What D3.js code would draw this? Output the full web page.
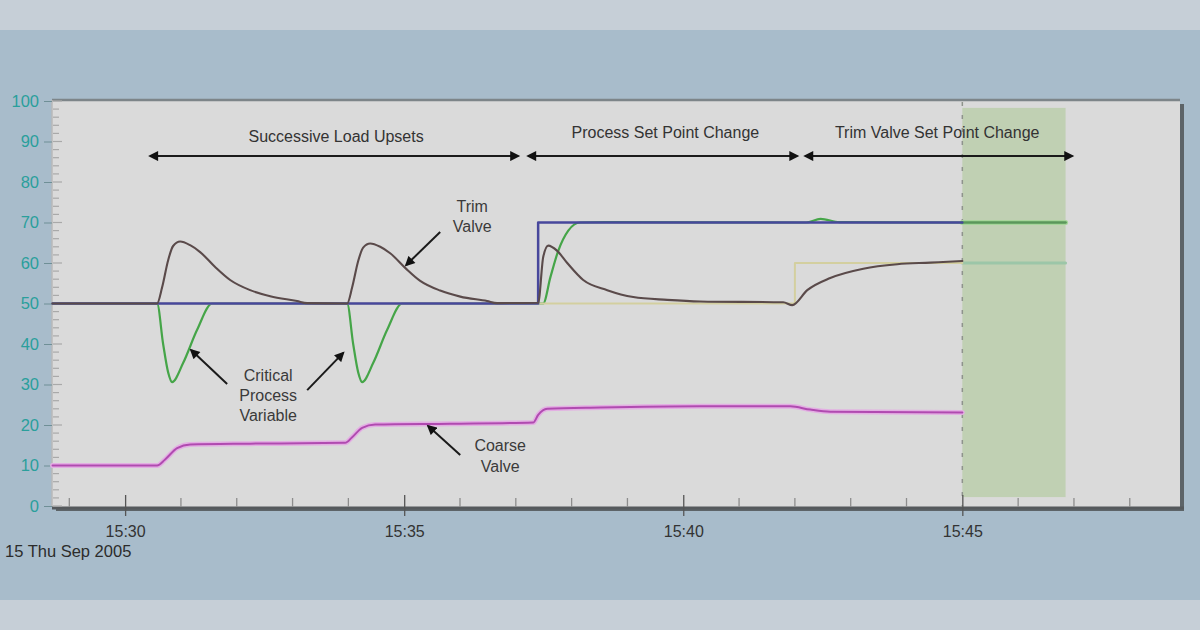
<!DOCTYPE html>
<html><head><meta charset="utf-8">
<script src="https://cdn.jsdelivr.net/npm/d3@7"></script>
<style>body{margin:0;background:#a7bbca;} svg{display:block;font-family:"Liberation Sans",Arial,sans-serif}</style>
</head><body><svg id="c" width="1200" height="630"></svg>
<script>
// ---------- data (time in minutes after 15:30, 15 Sep 2005) ----------
const baseTime = new Date(2005, 8, 15, 15, 30, 0);
const xDomainMinutes = [-1.31, 18.9];
const yTickValues = [0, 10, 20, 30, 40, 50, 60, 70, 80, 90, 100];
const xTickLabels = ["15:30", "15:35", "15:40", "15:45"];
const dateLabel = "15 Thu Sep 2005";

const processSetPoint = [[-1.3, 50], [7.4, 50], [7.4, 70], [15, 70]];
const trimSetPoint = [[-1.3, 50], [12.0, 50], [12.0, 60], [15, 60]];
const criticalPV = [
  [-1.3, 50], [0.573, 50], [0.681, 40], [0.771, 33], [0.842, 30.6], [1.039, 35.3], [1.29, 43.5], [1.559, 50],
  [3.978, 50], [4.086, 40], [4.176, 33], [4.247, 30.6], [4.444, 35.3], [4.695, 43.5], [4.964, 50],
  [7.49, 50], [7.62, 56.5], [7.76, 63], [7.94, 68], [8.15, 70], [8.6, 70.1], [12.2, 70], [12.46, 70.9], [12.8, 70.1], [15, 70]
];
const trimValve = [
  [-1.3, 50], [0.573, 50], [0.663, 54], [0.771, 60.7], [0.86, 64.2], [0.986, 65.3], [1.165, 64.4], [1.344, 62.7],
  [1.613, 59], [1.882, 55.8], [2.24, 53.3], [2.6, 51.8], [3.08, 50.6], [3.26, 50.1],
  [3.978, 50], [4.068, 54], [4.176, 60.5], [4.265, 63.8], [4.391, 64.8], [4.57, 64], [4.749, 62.4],
  [5.018, 58.8], [5.287, 55.6], [5.645, 53.2], [6.005, 51.7], [6.485, 50.6], [6.665, 50.1],
  [7.401, 50.2], [7.491, 61.5], [7.581, 64.3], [7.742, 63], [7.921, 60], [8.208, 55.8], [8.638, 53.3],
  [9.104, 51.6], [9.713, 50.9], [10.305, 50.5], [11.792, 50.3], [11.953, 49.6], [12.222, 53.3],
  [12.634, 56.3], [13.226, 58.6], [13.835, 59.7], [14.427, 60.1], [15, 60.5]
];
const coarseValve = [
  [-1.3, 10], [0.573, 10], [0.717, 11.5], [0.932, 14.3], [1.165, 15.2], [2.24, 15.4], [3.943, 15.6],
  [4.068, 17], [4.247, 19.3], [4.48, 20.1], [5.824, 20.3], [7.312, 20.6], [7.401, 22.5], [7.563, 24],
  [8.513, 24.3], [10.305, 24.6], [11.918, 24.6], [12.276, 23.8], [12.634, 23.3], [15, 23.1]
];
const projectedPV = [[15, 70], [16.85, 70]];
const projectedTrimSP = [[15, 60], [16.85, 60]];
const forecastBand = { from: 15, to: 16.85, low: 2.2, high: 98.3 };

const phaseLabels = ["Successive Load Upsets", "Process Set Point  Change", "Trim Valve Set Point  Change"];
const phaseStart = [0.448, 7.222, 12.186];
const phaseEnd = [7.043, 12.043, 16.97];
const phaseTextCenter = [3.78, 9.68, 14.55];
const phaseArrowValue = 86.4;
const phaseTextValue = [91.0, 92.0, 92.0];

// annotations: text lines, text anchor (min,value), arrows [tailMin, tailVal, headMin, headVal]
const annotations = [
  { lines: ["Trim", "Valve"], at: [6.219, 73.7], step: 4.9, arrows: [[5.645, 67.65, 5.036, 59.5]] },
  { lines: ["Critical", "Process", "Variable"], at: [2.563, 31.9], step: 4.9,
    arrows: [[1.828, 30.1, 1.183, 38.5], [3.262, 28.6, 3.907, 37.8]] },
  { lines: ["Coarse", "Valve"], at: [6.72, 14.6], step: 5.1, arrows: [[6.004, 12.6, 5.43, 19.75]] }
];

// ---------- drawing ----------
const svg = d3.select("#c");
const W = 1200, H = 630;
const toDate = m => new Date(baseTime.getTime() + m * 60000);

// background bands
svg.append("rect").attr("width", W).attr("height", H).attr("fill", "#a8bccb");
svg.append("rect").attr("width", W).attr("height", 30).attr("fill", "#c6cfd7");
svg.append("rect").attr("y", 600).attr("width", W).attr("height", 30).attr("fill", "#c6cfd7");

const x = d3.scaleTime().domain(xDomainMinutes.map(toDate)).range([52, 1180]);
const y = d3.scaleLinear().domain([0, 100]).range([506, 101]);
const x0 = x.range()[0], x1 = x.range()[1];
const yTop = 100, yBot = 507;

// plot area with shadow
svg.append("rect").attr("x", x0 + 4).attr("y", yTop + 4).attr("width", x1 - x0).attr("height", yBot - yTop)
  .attr("fill", "#5d6468");
svg.append("rect").attr("x", x0).attr("y", yTop).attr("width", x1 - x0).attr("height", yBot - yTop)
  .attr("fill", "#dadada");
svg.append("line").attr("x1", x0).attr("x2", x1).attr("y1", yTop).attr("y2", yTop)
  .attr("stroke", "#7d8589").attr("stroke-width", 2.5);
svg.append("line").attr("x1", x0).attr("x2", x0).attr("y1", yTop).attr("y2", yBot)
  .attr("stroke", "#b8b8b8").attr("stroke-width", 1.5);
svg.append("line").attr("x1", x0).attr("x2", x1 + 4).attr("y1", yBot + 1).attr("y2", yBot + 1)
  .attr("stroke", "#55595c").attr("stroke-width", 3);

// forecast band
svg.append("rect")
  .attr("x", x(toDate(forecastBand.from))).attr("width", x(toDate(forecastBand.to)) - x(toDate(forecastBand.from)))
  .attr("y", y(forecastBand.high)).attr("height", y(forecastBand.low) - y(forecastBand.high))
  .attr("fill", "#c0d0b3");
svg.append("line").attr("x1", x(toDate(forecastBand.from))).attr("x2", x(toDate(forecastBand.from)))
  .attr("y1", yTop + 2).attr("y2", yBot).attr("stroke", "#8e938c").attr("stroke-width", 1.5)
  .attr("stroke-dasharray", "4,9");

// y minor ticks inside
const yMinor = d3.range(0, 100.1, 2);
svg.append("g").selectAll("line").data(yMinor).join("line")
  .attr("x1", x0 + 1).attr("x2", d => x0 + (d % 10 === 0 ? 10 : 7))
  .attr("y1", d => y(d)).attr("y2", d => y(d))
  .attr("stroke", "#a9a9a9").attr("stroke-width", 1.2);
// y axis labels
const yAxis = svg.append("g").attr("transform", `translate(${x0},0)`)
  .call(d3.axisLeft(y).tickValues(yTickValues).tickSize(8).tickPadding(5));
yAxis.select(".domain").remove();
yAxis.selectAll("line").attr("stroke", "#6f8f96");
yAxis.selectAll("text").attr("fill", "#2a9f9c").attr("font-size", 16.5)
  .attr("font-family", "'Liberation Sans',Arial,sans-serif");

// x minor ticks
const minorTimes = d3.range(-1, 19, 1).filter(m => m % 5 !== 0).map(toDate);
svg.append("g").selectAll("line").data(minorTimes).join("line")
  .attr("x1", d => x(d)).attr("x2", d => x(d)).attr("y1", yBot - 9).attr("y2", yBot)
  .attr("stroke", "#8d8d8d").attr("stroke-width", 1.3);
// x major axis
const xAxis = svg.append("g").attr("transform", `translate(0,${yBot})`)
  .call(d3.axisBottom(x).tickValues([0, 5, 10, 15].map(toDate)).tickFormat((d, i) => xTickLabels[i])
    .tickSize(9).tickPadding(10));
xAxis.select(".domain").remove();
xAxis.selectAll("line").attr("y1", -12).attr("stroke", "#555").attr("stroke-width", 1.3);
xAxis.selectAll("text").attr("fill", "#333").attr("font-size", 16)
  .attr("font-family", "'Liberation Sans',Arial,sans-serif");
svg.append("text").attr("x", 5).attr("y", 557).attr("fill", "#2c2c2c").attr("font-size", 16.5)
  .text(dateLabel);

// series
const lineStep = d3.line().x(d => x(toDate(d[0]))).y(d => y(d[1]));
const lineSmooth = d3.line().x(d => x(toDate(d[0]))).y(d => y(d[1])).curve(d3.curveMonotoneX);
const g = svg.append("g").attr("fill", "none").attr("stroke-linejoin", "round").attr("stroke-linecap", "round");

g.append("path").datum(projectedTrimSP).attr("d", lineStep).attr("stroke", "#9cc6a8").attr("stroke-width", 3);
g.append("path").datum(projectedPV).attr("d", lineStep).attr("stroke", "#a6d59a").attr("stroke-width", 5);
g.append("path").datum(projectedPV).attr("d", lineStep).attr("stroke", "#5a975a").attr("stroke-width", 2.5);
g.append("path").datum(criticalPV).attr("d", lineSmooth).attr("stroke", "#45a548").attr("stroke-width", 2.2);
g.append("path").datum(trimSetPoint).attr("d", lineStep).attr("stroke", "#d3cf9f").attr("stroke-width", 2);
g.append("path").datum(processSetPoint).attr("d", lineStep).attr("stroke", "#47479c").attr("stroke-width", 2.5);
g.append("path").datum(trimValve).attr("d", lineSmooth).attr("stroke", "#5a4a4a").attr("stroke-width", 2.1);
g.append("path").datum(coarseValve).attr("d", lineSmooth).attr("stroke", "#e3aee3").attr("stroke-width", 5);
g.append("path").datum(coarseValve).attr("d", lineSmooth).attr("stroke", "#b04ab0").attr("stroke-width", 2);

// arrow markers
const defs = svg.append("defs");
defs.append("marker").attr("id", "ah").attr("viewBox", "0 0 10 10").attr("refX", 8).attr("refY", 5)
  .attr("markerWidth", 11).attr("markerHeight", 10).attr("markerUnits", "userSpaceOnUse")
  .attr("orient", "auto-start-reverse")
  .append("path").attr("d", "M0,0 L10,5 L0,10 Z").attr("fill", "#111");

// phase arrows
phaseLabels.forEach((lab, i) => {
  svg.append("line").attr("x1", x(toDate(phaseStart[i]))).attr("x2", x(toDate(phaseEnd[i])))
    .attr("y1", y(phaseArrowValue)).attr("y2", y(phaseArrowValue))
    .attr("stroke", "#1a1a1a").attr("stroke-width", 2)
    .attr("marker-start", "url(#ah)").attr("marker-end", "url(#ah)");
  svg.append("text").attr("x", x(toDate(phaseTextCenter[i]))).attr("y", y(phaseTextValue[i]))
    .attr("text-anchor", "middle").attr("dominant-baseline", "middle")
    .attr("font-size", 16).attr("fill", "#333").text(lab);
});

// annotations
annotations.forEach(a => {
  const t = svg.append("text").attr("text-anchor", "middle").attr("font-size", 16).attr("fill", "#3a3a3a");
  a.lines.forEach((ln, k) => {
    t.append("tspan").attr("x", x(toDate(a.at[0]))).attr("y", y(a.at[1] - k * a.step))
      .attr("dominant-baseline", "middle").text(ln);
  });
  a.arrows.forEach(ar => {
    svg.append("line").attr("x1", x(toDate(ar[0]))).attr("y1", y(ar[1]))
      .attr("x2", x(toDate(ar[2]))).attr("y2", y(ar[3]))
      .attr("stroke", "#1a1a1a").attr("stroke-width", 2).attr("marker-end", "url(#ah)");
  });
});
</script></body></html>
